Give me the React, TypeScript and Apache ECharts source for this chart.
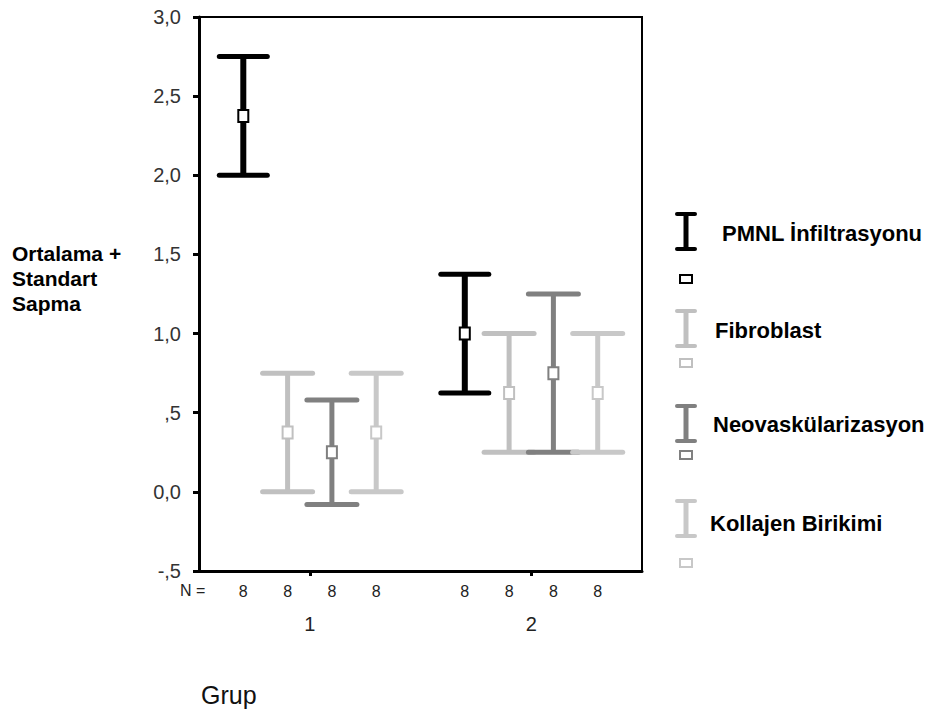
import React, { useEffect, useRef } from "react";
import * as echarts from "echarts";

// ---- data ----
const groups = ["1", "2"];
const seriesNames = ["PMNL İnfiltrasyonu", "Fibroblast", "Neovaskülarizasyon", "Kollajen Birikimi"];
const seriesColors = ["#000000", "#c0c0c0", "#808080", "#c8c8c8"];
const pmnlMean = [2.375, 1.0];
const pmnlSd = [0.375, 0.375];
const fibMean = [0.375, 0.625];
const fibSd = [0.375, 0.375];
const neoMean = [0.25, 0.75];
const neoSd = [0.33, 0.5];
const kolMean = [0.375, 0.625];
const kolSd = [0.375, 0.375];
const pmnlN = [8, 8];
const fibN = [8, 8];
const neoN = [8, 8];
const kolN = [8, 8];
const yTickLabels = ["-,5", "0,0", ",5", "1,0", "1,5", "2,0", "2,5", "3,0"];
const yTitle = "Ortalama +\nStandart\nSapma";
const xTitle = "Grup";
const nLabel = "N =";

const means = [pmnlMean, fibMean, neoMean, kolMean];
const sds = [pmnlSd, fibSd, neoSd, kolSd];
const ns = [pmnlN, fibN, neoN, kolN];

// legend layout (positions only)
const legendTextX = [722, 715, 713, 710];
const legendTextY = [233, 330, 424, 523];
const legendIconTop = [214, 311, 406, 501];
const legendSquareY = [279, 363, 455, 563];
const FONT = '"Liberation Sans", Arial, sans-serif';

export default function App() {
  const ref = useRef<HTMLDivElement>(null);
  useEffect(() => {
    if (!ref.current) return;
    const chart = echarts.init(ref.current, null, { renderer: "svg" });

    const series = seriesNames.map((name, s) => ({
      name,
      type: "custom",
      clip: false,
      data: groups.map((_, g) => [g * 5 + s + 1, means[s][g], sds[s][g], ns[s][g]]),
      renderItem: (params: any, api: any) => {
        const x = api.value(0);
        const mean = api.value(1);
        const sd = api.value(2);
        const n = api.value(3);
        const top = api.coord([x, mean + sd]);
        const bot = api.coord([x, mean - sd]);
        const mid = api.coord([x, mean]);
        const base = api.coord([x, -0.5]);
        const color = seriesColors[s];
        const lw = s === 0 ? 6 : 5;
        const capW = s === 0 ? 24 : 25;
        return {
          type: "group",
          children: [
            { type: "line", shape: { x1: top[0], y1: top[1], x2: bot[0], y2: bot[1] }, style: { stroke: color, lineWidth: lw } },
            { type: "line", shape: { x1: top[0] - capW, y1: top[1], x2: top[0] + capW, y2: top[1] }, style: { stroke: color, lineWidth: 5, lineCap: "round" } },
            { type: "line", shape: { x1: bot[0] - capW, y1: bot[1], x2: bot[0] + capW, y2: bot[1] }, style: { stroke: color, lineWidth: 5, lineCap: "round" } },
            { type: "rect", shape: { x: mid[0] - 5, y: mid[1] - 6, width: 10, height: 12 }, style: { fill: "#ffffff", stroke: color, lineWidth: 2 } },
            {
              type: "text",
              x: base[0],
              y: base[1] + 20,
              style: { text: String(n), fill: "#222", font: `16px ${FONT}`, align: "center", verticalAlign: "middle", textAlign: "center", textVerticalAlign: "middle" },
            },
          ],
        };
      },
    }));

    const legendChildren: any[] = [];
    seriesNames.forEach((name, i) => {
      const color = seriesColors[i];
      const cx = 686;
      const t = legendIconTop[i];
      const h = 35;
      legendChildren.push(
        { type: "line", shape: { x1: cx, y1: t, x2: cx, y2: t + h }, style: { stroke: color, lineWidth: 5 } },
        { type: "line", shape: { x1: cx - 9, y1: t, x2: cx + 9, y2: t }, style: { stroke: color, lineWidth: 4, lineCap: "round" } },
        { type: "line", shape: { x1: cx - 9, y1: t + h, x2: cx + 9, y2: t + h }, style: { stroke: color, lineWidth: 4, lineCap: "round" } },
        { type: "rect", shape: { x: cx - 6, y: legendSquareY[i] - 4, width: 12, height: 8 }, style: { fill: "#ffffff", stroke: color, lineWidth: 2 } },
        {
          type: "text",
          x: legendTextX[i],
          y: legendTextY[i],
          style: { text: name, fill: "#000", font: `bold 22px ${FONT}`, align: "left", verticalAlign: "middle", textAlign: "left", textVerticalAlign: "middle" },
        }
      );
    });

    const option: any = {
      animation: false,
      backgroundColor: "#ffffff",
      grid: { left: 199, right: 291, top: 17, bottom: 140, show: true, borderColor: "#000", borderWidth: 2, containLabel: false },
      xAxis: {
        type: "value",
        min: 0,
        max: 10,
        axisLine: { show: true, onZero: false, lineStyle: { color: "#000", width: 3 } },
        axisTick: { show: true, customValues: [2.5, 7.5], length: 5, lineStyle: { color: "#000", width: 3 } },
        axisLabel: {
          customValues: [2.5, 7.5],
          margin: 43,
          color: "#222",
          fontFamily: FONT,
          fontSize: 20,
          formatter: (v: number) => groups[Math.round((v - 2.5) / 5)] ?? "",
        },
        splitLine: { show: false },
      },
      yAxis: {
        type: "value",
        min: -0.5,
        max: 3,
        interval: 0.5,
        axisLine: { show: true, onZero: false, lineStyle: { color: "#000", width: 3 } },
        axisTick: { show: true, length: 6, lineStyle: { color: "#000", width: 3 } },
        axisLabel: {
          margin: 18,
          color: "#333",
          fontFamily: FONT,
          fontSize: 20,
          formatter: (v: number) => yTickLabels[Math.round((v + 0.5) / 0.5)] ?? "",
        },
        splitLine: { show: false },
      },
      graphic: [
        {
          type: "text",
          left: 12,
          top: 241,
          style: { text: yTitle, fill: "#000", font: `bold 21px ${FONT}`, lineHeight: 25 },
        },
        {
          type: "text",
          x: 180,
          y: 590,
          style: { text: nLabel, fill: "#222", font: `16px ${FONT}`, verticalAlign: "middle", textVerticalAlign: "middle" },
        },
        {
          type: "text",
          x: 201,
          y: 695,
          style: { text: xTitle, fill: "#111", font: `25px ${FONT}`, verticalAlign: "middle", textVerticalAlign: "middle" },
        },
        { type: "group", children: legendChildren },
      ],
      series,
    };
    chart.setOption(option);
    return () => chart.dispose();
  }, []);
  return <div ref={ref} style={{ position: "fixed", left: 0, top: 0, width: 933, height: 711, background: "#fff" }} />;
}
